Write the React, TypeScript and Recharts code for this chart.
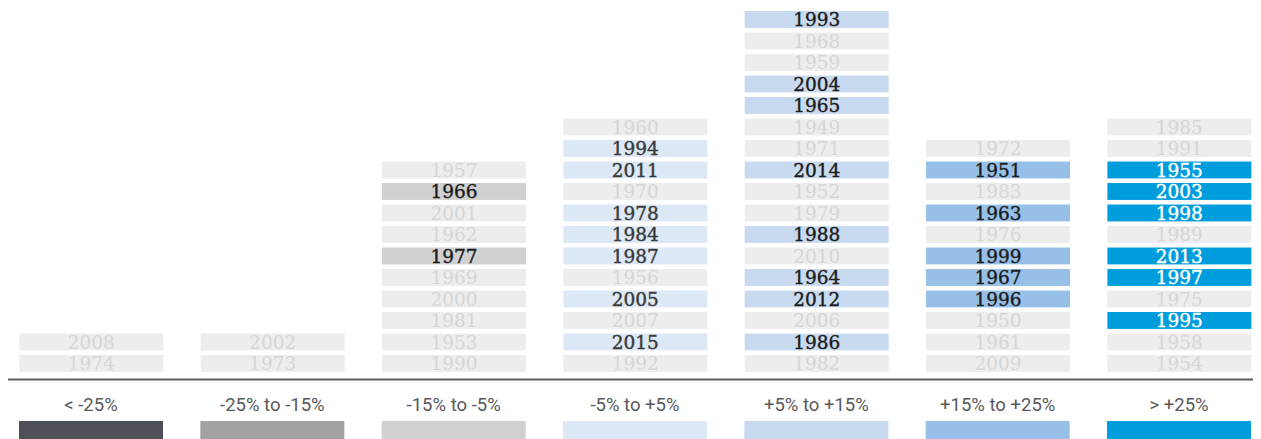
import React from 'react';
import { BarChart, Bar, XAxis, YAxis } from 'recharts';

const categories = ['< -25%', '-25% to -15%', '-15% to -5%', '-5% to +5%', '+5% to +15%', '+15% to +25%', '> +25%'];
const categoryColors = ['#4d5056', '#a2a2a4', '#d0d0d0', '#dde8f6', '#c8daf0', '#97c0e8', '#009ddc'];
const highlightTextColors = ['#1c1c1c', '#1c1c1c', '#1c1c1c', '#3a3a3a', '#1c1c1c', '#1c1c1c', '#ffffff'];

// years per category, listed bottom to top
const yearsLt25 = [1974, 2008];
const years25to15 = [1973, 2002];
const years15to5 = [1990, 1953, 1981, 2000, 1969, 1977, 1962, 2001, 1966, 1957];
const years5to5 = [1992, 2015, 2007, 2005, 1956, 1987, 1984, 1978, 1970, 2011, 1994, 1960];
const yearsP5to15 = [1982, 1986, 2006, 2012, 1964, 2010, 1988, 1979, 1952, 2014, 1971, 1949, 1965, 2004, 1959, 1968, 1993];
const yearsP15to25 = [2009, 1961, 1950, 1996, 1967, 1999, 1976, 1963, 1983, 1951, 1972];
const yearsGt25 = [1954, 1958, 1995, 1975, 1997, 2013, 1989, 1998, 2003, 1955, 1991, 1985];

// highlighted years
const highlighted = [
  1977, 1966,
  2015, 2005, 1987, 1984, 1978, 2011, 1994,
  1986, 2012, 1964, 1988, 2014, 1965, 2004, 1993,
  1996, 1967, 1999, 1963, 1951,
  1995, 1997, 2013, 1998, 2003, 1955,
];

const columns = [yearsLt25, years25to15, years15to5, years5to5, yearsP5to15, yearsP15to25, yearsGt25];
const maxRows = Math.max(...columns.map((c) => c.length));
const rowKeys = Array.from({ length: maxRows }, (_, k) => k);

const data = categories.map((label, i) => {
  const row: any = { idx: i, label };
  rowKeys.forEach((k) => {
    const yr = columns[i][k];
    row[`r${k}`] = yr !== undefined ? 1 : 0;
    row[`y${k}`] = yr;
  });
  return row;
});

const FADED_BG = '#ededed';
const FADED_TEXT = '#d6d6d6';
const INSET = 2.3;

const makeShape = (k: number) => (props: any) => {
  const { x, y, width, height, payload } = props;
  const yr = payload ? payload[`y${k}`] : undefined;
  if (yr === undefined || !height || height <= 0) return <g />;
  const ci = payload.idx;
  const hl = highlighted.includes(yr);
  const fill = hl ? categoryColors[ci] : FADED_BG;
  const color = hl ? highlightTextColors[ci] : FADED_TEXT;
  const ry = y + INSET;
  const rh = height - 2 * INSET;
  return (
    <g>
      <rect x={x} y={ry} width={width} height={rh} fill={fill} />
      <text
        x={x + width / 2}
        y={ry + rh / 2 + 6.6}
        textAnchor="middle"
        fontFamily="'DejaVu Serif', serif"
        fontSize={18.5}
        fill={color}
        stroke={hl ? color : 'none'}
        strokeWidth={hl ? 0.4 : 0}
      >
        {yr}
      </text>
    </g>
  );
};

const LegendTick = (props: any) => {
  const { x, y, payload } = props;
  const i = payload.value;
  return (
    <g>
      <text
        x={x}
        y={y + 31}
        textAnchor="middle"
        fontFamily="Roboto, sans-serif"
        fontSize={18.5}
        fill="#58595b"
      >
        {categories[i]}
      </text>
      <rect x={x - 72} y={y + 41.5} width={144} height={18} fill={categoryColors[i]} />
    </g>
  );
};

export default function App() {
  return (
    <div style={{ width: 1253, height: 431 }}>
      <BarChart
        width={1253}
        height={431}
        data={data}
        margin={{ top: 0.75, right: 0, bottom: 0, left: 0 }}
      >
        <XAxis
          dataKey="idx"
          type="number"
          domain={[-0.4577, 6.452]}
          allowDataOverflow
          ticks={[0, 1, 2, 3, 4, 5, 6]}
          interval={0}
          height={59.5}
          tickSize={0}
          tickMargin={0}
          tickLine={false}
          axisLine={{ stroke: '#5e5e5e', strokeWidth: 2 }}
          tick={<LegendTick />}
        />
        <YAxis hide type="number" domain={[-0.2465, 17]} allowDataOverflow />
        {rowKeys.map((k) => (
          <Bar
            key={k}
            dataKey={`r${k}`}
            stackId="s"
            barSize={144}
            isAnimationActive={false}
            shape={makeShape(k)}
          />
        ))}
      </BarChart>
    </div>
  );
}
